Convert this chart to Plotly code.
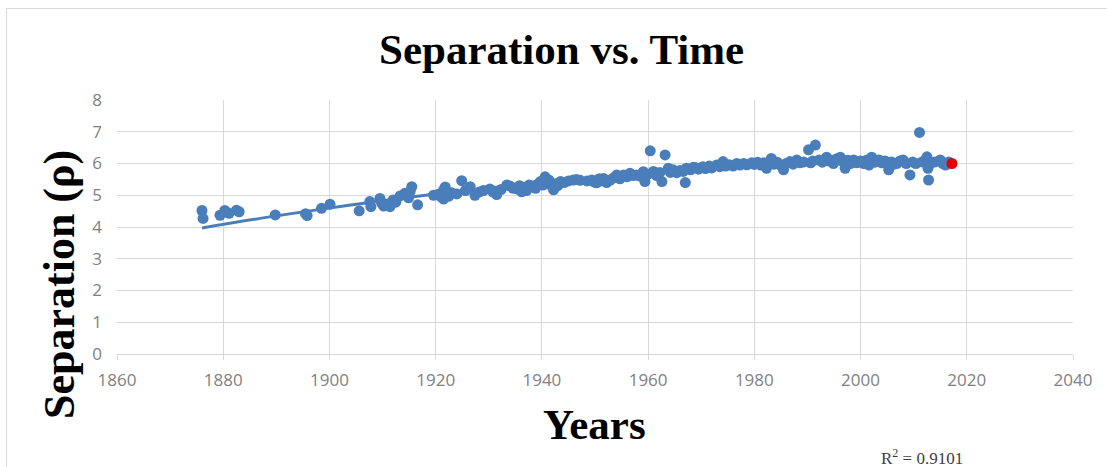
import plotly.graph_objects as go

# ---- data ----
years = [
    1876.0, 1876.2, 1879.4, 1880.3, 1881.1, 1882.5, 1883.0, 1889.8, 1895.5, 1895.8,
    1898.5, 1900.1, 1905.6, 1907.6, 1907.8, 1909.5, 1909.8, 1910.2, 1911.0, 1911.4,
    1912.0, 1912.5, 1913.3, 1914.2, 1914.9, 1915.2, 1915.5, 1916.6, 1919.6, 1920.5,
    1921.0, 1921.5, 1921.8, 1921.5, 1922.5, 1923.0, 1924.0, 1924.9, 1925.6, 1926.5,
    1927.4, 1928.2, 1929.0, 1930.2, 1930.8, 1931.5, 1932.3, 1933.4,
    1934.0, 1934.6, 1935.3, 1935.8, 1936.2, 1936.7, 1937.1, 1937.6, 1938.3, 1938.8,
    1939.2, 1939.7, 1940.2, 1940.6, 1941.0, 1941.3, 1941.8, 1942.2, 1942.6, 1943.0,
    1943.5, 1944.2, 1945.0, 1945.9, 1946.5, 1947.2, 1948.5, 1949.4, 1949.8, 1950.3,
    1950.8, 1951.2, 1951.6, 1952.2, 1952.9, 1953.5, 1954.1, 1954.7, 1955.4, 1956.0,
    1956.6, 1957.2, 1957.8, 1958.5, 1959.1, 1959.4, 1959.8, 1960.4, 1960.8, 1961.0,
    1961.6, 1962.2, 1962.6, 1963.2, 1963.8, 1964.2, 1964.7, 1965.4, 1966.0, 1966.6,
    1967.0, 1967.2, 1968.0, 1968.5, 1969.0, 1969.5, 1970.3, 1970.8, 1971.5, 1972.0,
    1972.9, 1973.5, 1974.1, 1974.6, 1975.3, 1976.0, 1976.7, 1977.3, 1978.0, 1978.6,
    1979.5, 1980.0, 1980.6, 1981.2, 1981.8, 1982.3, 1982.8, 1983.2, 1983.7, 1984.3,
    1984.9, 1985.5, 1986.0, 1986.7, 1987.3, 1988.0, 1988.6, 1989.3, 1990.2, 1990.6,
    1991.0, 1991.5, 1992.2, 1992.8, 1993.6, 1994.0, 1994.3, 1994.9, 1995.5, 1996.2,
    1996.7, 1997.1, 1997.6, 1998.1, 1998.7, 1999.3, 2000.0, 2000.6, 2001.2, 2001.6,
    2002.1, 2002.7, 2003.5, 2004.0, 2004.6, 2005.3, 2005.8, 2006.3, 2006.8, 2007.4,
    2008.0, 2008.6, 2009.3, 2009.8, 2010.4, 2011.1, 2011.6, 2012.2, 2012.5, 2012.7,
    2012.8, 2013.3, 2014.0, 2015.0, 2015.5, 2016.0, 2016.6,
]
separation = [
    4.52, 4.27, 4.37, 4.52, 4.43, 4.53, 4.48, 4.38, 4.42, 4.36,
    4.59, 4.72, 4.51, 4.80, 4.64, 4.90, 4.76, 4.66, 4.72, 4.64,
    4.85, 4.78, 4.98, 5.06, 4.92, 5.12, 5.27, 4.70, 5.00, 5.03,
    4.95, 5.17, 5.26, 4.88, 4.97, 5.08, 5.04, 5.46, 5.15, 5.27,
    5.00, 5.10, 5.15, 5.20, 5.10, 5.02, 5.18, 5.32,
    5.29, 5.22, 5.20, 5.30, 5.11, 5.25, 5.15, 5.32, 5.29, 5.22,
    5.35, 5.43, 5.32, 5.58, 5.38, 5.48, 5.30, 5.17, 5.36, 5.30,
    5.43, 5.40, 5.45, 5.48, 5.50, 5.47, 5.45, 5.48, 5.42, 5.39,
    5.52, 5.45, 5.53, 5.40, 5.48, 5.55, 5.64, 5.52, 5.64, 5.58,
    5.69, 5.62, 5.64, 5.60, 5.74, 5.43, 5.66, 6.40, 5.70, 5.75,
    5.62, 5.72, 5.43, 6.27, 5.85, 5.72, 5.80, 5.71, 5.78, 5.75,
    5.40, 5.85, 5.80, 5.88, 5.87, 5.82, 5.90, 5.84, 5.92, 5.86,
    5.95, 5.90, 6.06, 5.92, 5.96, 5.92, 6.00, 5.95, 6.00, 5.96,
    6.02, 5.97, 6.04, 5.95, 6.02, 5.85, 6.00, 6.16, 5.98, 6.04,
    5.95, 5.80, 6.00, 6.06, 5.98, 6.11, 6.02, 6.05, 6.43, 6.02,
    6.08, 6.58, 6.11, 6.04, 6.20, 6.08, 6.11, 6.00, 6.15, 6.20,
    6.05, 5.85, 6.10, 6.00, 6.11, 6.02, 6.08, 6.00, 6.11, 5.95,
    6.20, 6.04, 6.11, 6.02, 6.08, 5.80, 6.05, 5.98, 6.00, 6.08,
    6.11, 6.00, 5.64, 6.05, 6.00, 6.98, 6.05, 6.10, 6.21, 5.85,
    5.48, 6.02, 6.05, 6.11, 6.00, 5.95, 6.05,
]
latest_year = [2017.2]
latest_separation = [6.00]

# polynomial trendline
trend_years = [1876, 1890, 1904, 1920, 1934, 1950, 1965, 1980, 2000, 2017.2]
trend_values = [3.97, 4.35, 4.69, 5.04, 5.30, 5.56, 5.75, 5.91, 6.05, 6.11]

x_ticks = [1860, 1880, 1900, 1920, 1940, 1960, 1980, 2000, 2020, 2040]
y_ticks = [0, 1, 2, 3, 4, 5, 6, 7, 8]
r_squared_label = "R<sup>2</sup> = 0.9101"

BLUE = "#4A7EBB"
GRID = "#D9D9D9"
SERIF = "Liberation Serif"
TICKFONT = dict(family="Open Sans", size=17, color="#7F7F7F")

fig = go.Figure()
fig.add_trace(go.Scatter(
    x=years, y=separation, mode="markers",
    marker=dict(color=BLUE, size=11, line=dict(width=0)),
    showlegend=False, hoverinfo="x+y"))
fig.add_trace(go.Scatter(
    x=trend_years, y=trend_values, mode="lines", line_shape="spline",
    line=dict(color=BLUE, width=3), showlegend=False, hoverinfo="skip"))
fig.add_trace(go.Scatter(
    x=latest_year, y=latest_separation, mode="markers",
    marker=dict(color="#E00000", size=11, line=dict(width=0)),
    showlegend=False))

W, H = 1107, 467
L, R, T, B = 117, 34, 100, 113
pw, ph = W - L - R, H - T - B

def px(xp):
    return (xp - L) / pw

def py(yp):
    return (H - B - yp) / ph

fig.update_layout(
    width=W, height=H,
    margin=dict(l=L, r=R, t=T, b=B),
    paper_bgcolor="white", plot_bgcolor="white",
    xaxis=dict(range=[1860, 2040], tickvals=x_ticks, ticktext=[str(v) for v in x_ticks],
               showgrid=True, gridcolor=GRID, gridwidth=1,
               showline=True, linecolor=GRID, linewidth=1,
               ticks="outside", ticklen=5, tickcolor=GRID,
               tickfont=TICKFONT, ticklabelstandoff=6, zeroline=False),
    yaxis=dict(range=[0, 8], tickvals=y_ticks,
               showgrid=True, gridcolor=GRID, gridwidth=1,
               showline=False, ticks="", tickfont=TICKFONT,
               ticklabelstandoff=14, zeroline=False),
    shapes=[dict(type="rect", xref="paper", yref="paper",
                 x0=px(6.5), x1=px(1115), y0=py(8.5), y1=py(480),
                 line=dict(color="#D9D9D9", width=1), fillcolor="rgba(0,0,0,0)",
                 layer="below")],
    annotations=[
        dict(text="<b>Separation vs. Time</b>", xref="paper", yref="paper",
             x=px(561), y=py(50), xanchor="center", yanchor="middle",
             showarrow=False, font=dict(family=SERIF, size=43, color="black")),
        dict(text="<b>Separation (ρ)</b>", xref="paper", yref="paper",
             x=px(59), y=py(285), xanchor="center", yanchor="middle", textangle=-90,
             showarrow=False, font=dict(family=SERIF, size=44, color="black")),
        dict(text="<b>Years</b>", xref="paper", yref="paper",
             x=px(594), y=py(424), xanchor="center", yanchor="middle",
             showarrow=False, font=dict(family=SERIF, size=43, color="black")),
        dict(text=r_squared_label, xref="paper", yref="paper",
             x=px(922), y=py(457), xanchor="center", yanchor="middle",
             showarrow=False, font=dict(family=SERIF, size=17, color="#404040")),
    ],
)

fig.write_html("out.html", config={"displayModeBar": False},
               post_script="document.body.style.margin='0px';")
